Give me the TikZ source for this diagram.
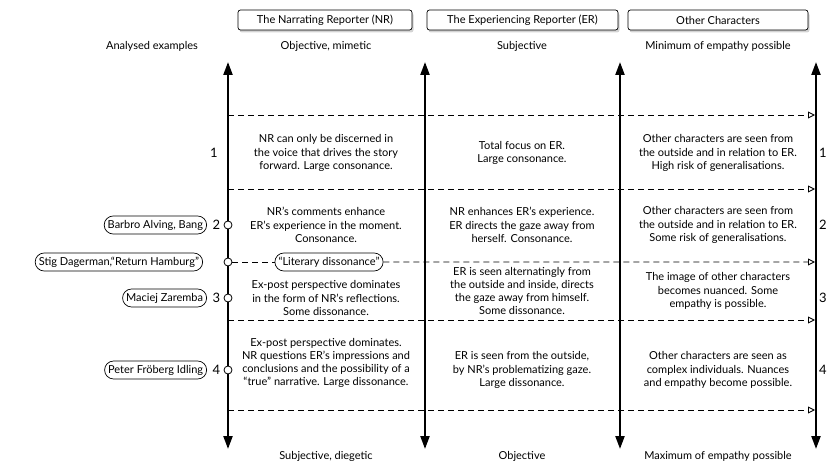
\documentclass[tikz,border=0pt]{standalone}
\usepackage{fontspec}
\setmainfont{Lato}
\usetikzlibrary{arrows.meta,positioning,shadows,shapes.misc}
\tikzset{
  hbox/.style={draw,rounded corners=2.5pt,fill=white,minimum height=20pt,
               inner xsep=4pt,line width=.7pt,
               drop shadow={opacity=.35,shadow xshift=1.5pt,shadow yshift=-2.5pt}},
  pill/.style={draw,rounded rectangle,fill=white,inner xsep=2pt,
               minimum height=18pt,line width=.7pt},
  cell/.style={align=center},
  num/.style={font=\fontsize{13}{15}\selectfont},
  ring/.style={circle,draw,fill=white,inner sep=0pt,minimum size=8pt,line width=.8pt},
  axis/.style={{Triangle[length=13pt,width=9pt]}-{Triangle[length=13pt,width=9pt]},
               line width=2.2pt},
  sepl/.style={line width=.9pt,dash pattern=on 6pt off 4pt},
  sep/.style={sepl,-{Triangle[open,length=7pt,width=7pt]}},
}

\begin{document}
\begin{tikzpicture}[x=1pt,y=-1pt,font=\fontsize{11}{13.2}\selectfont,
                    every node/.style={text=black}]
  \useasboundingbox (0,0) rectangle (828,468);
  % column heads
  \node[hbox,minimum width=174pt] (hNR) at (325,20) {The Narrating Reporter (NR)};
  \node[hbox,minimum width=191pt] (hER) at (522.5,20) {The Experiencing Reporter (ER)};
  \node[hbox,minimum width=180pt] (hOC) at (718,20) {Other Characters};
  \node (tEx) at (152,46) {Analysed examples};
  \node (tNR) at (326,46) {Objective, mimetic};
  \node (tER) at (522,46) {Subjective};
  \node (tOC) at (718,46) {Minimum of empathy possible};
  \node (bNR) at (326,456) {Subjective, diegetic};
  \node (bER) at (522,456) {Objective};
  \node (bOC) at (718,456) {Maximum of empathy possible};
  % axes
  \coordinate (a0t) at (228,62);  \coordinate (a0b) at (228,449);
  \coordinate (a1t) at (425,62);  \coordinate (a1b) at (425,449);
  \coordinate (a2t) at (620,62);  \coordinate (a2b) at (620,449);
  \coordinate (a3t) at (816,62);  \coordinate (a3b) at (816,449);
  \draw[axis] (a0t)--(a0b);
  \draw[axis] (a1t)--(a1b);
  \draw[axis] (a2t)--(a2b);
  \draw[axis] (a3t)--(a3b);
  % dashed separators
  \coordinate (d1l) at (228,115); \coordinate (d1r) at (815,115);
  \coordinate (d2l) at (228,189); \coordinate (d2r) at (815,189);
  \coordinate (d3r) at (815,262);
  \coordinate (d4l) at (228,320); \coordinate (d4r) at (815,320);
  \coordinate (d5l) at (228,410); \coordinate (d5r) at (815,410);
  \draw[sep] (d1l)--(d1r);
  \draw[sep] (d2l)--(d2r);
  \draw[sep] (d4l)--(d4r);
  \draw[sep] (d5l)--(d5r);
  % rows
  \node[num] (n1) at (214,153) {1};
  \node[num] (m1) at (823,153) {1};
  \node[cell] (c11) at (326,153) {NR can only be discerned in\\the voice that drives the story\\forward. Large consonance.};
  \node[cell] (c12) at (522,153) {Total focus on ER.\\Large consonance.};
  \node[cell] (c13) at (718,153) {Other characters are seen from\\the outside and in relation to ER.\\High risk of generalisations.};

  \node[ring] (r2) at (228,225) {};
  \node[num,left=0pt of r2] (n2) {2};
  \node[pill,left=2pt of n2] (pBA) {Barbro Alving, Bang};
  \node[num] (m2) at (823,225) {2};
  \node[cell] (c21) at (326,225) {NR’s comments enhance\\ER’s experience in the moment.\\Consonance.};
  \node[cell] (c22) at (522,225) {NR enhances ER’s experience.\\ER directs the gaze away from\\herself. Consonance.};
  \node[cell] (c23) at (718,225) {Other characters are seen from\\the outside and in relation to ER.\\Some risk of generalisations.};

  \node[ring] (rS) at (228,262) {};
  \node[pill,anchor=east] (pSD) at (203,262) {Stig Dagerman,“Return Hamburg”};
  \node[pill] (lit) at (329,262) {“Literary dissonance”};
  \draw[sepl] (rS)--(lit);
  \draw[sep] (lit)--(d3r);

  \node[ring] (r3) at (228,298) {};
  \node[num,left=0pt of r3] (n3) {3};
  \node[pill,left=2pt of n3] (pMZ) {Maciej Zaremba};
  \node[num] (m3) at (823,298) {3};
  \node[cell] (c31) at (326,298) {Ex-post perspective dominates\\in the form of NR’s reflections.\\Some dissonance.};
  \node[cell] (c32) at (522,291) {ER is seen alternatingly from\\the outside and inside, directs\\the gaze away from himself.\\Some dissonance.};
  \node[cell] (c33) at (718,291) {The image of other characters\\becomes nuanced. Some\\empathy is possible.};

  \node[ring] (r4) at (228,370) {};
  \node[num,left=0pt of r4] (n4) {4};
  \node[pill,left=2pt of n4] (pPF) {Peter Fröberg Idling};
  \node[num] (m4) at (823,370) {4};
  \node[cell] (c41) at (326,363) {Ex-post perspective dominates.\\NR questions ER’s impressions and\\conclusions and the possibility of a\\“true” narrative. Large dissonance.};
  \node[cell] (c42) at (522,370) {ER is seen from the outside,\\by NR’s problematizing gaze.\\Large dissonance.};
  \node[cell] (c43) at (718,370) {Other characters are seen as\\complex individuals. Nuances\\and empathy become possible.};
\end{tikzpicture}
\end{document}
